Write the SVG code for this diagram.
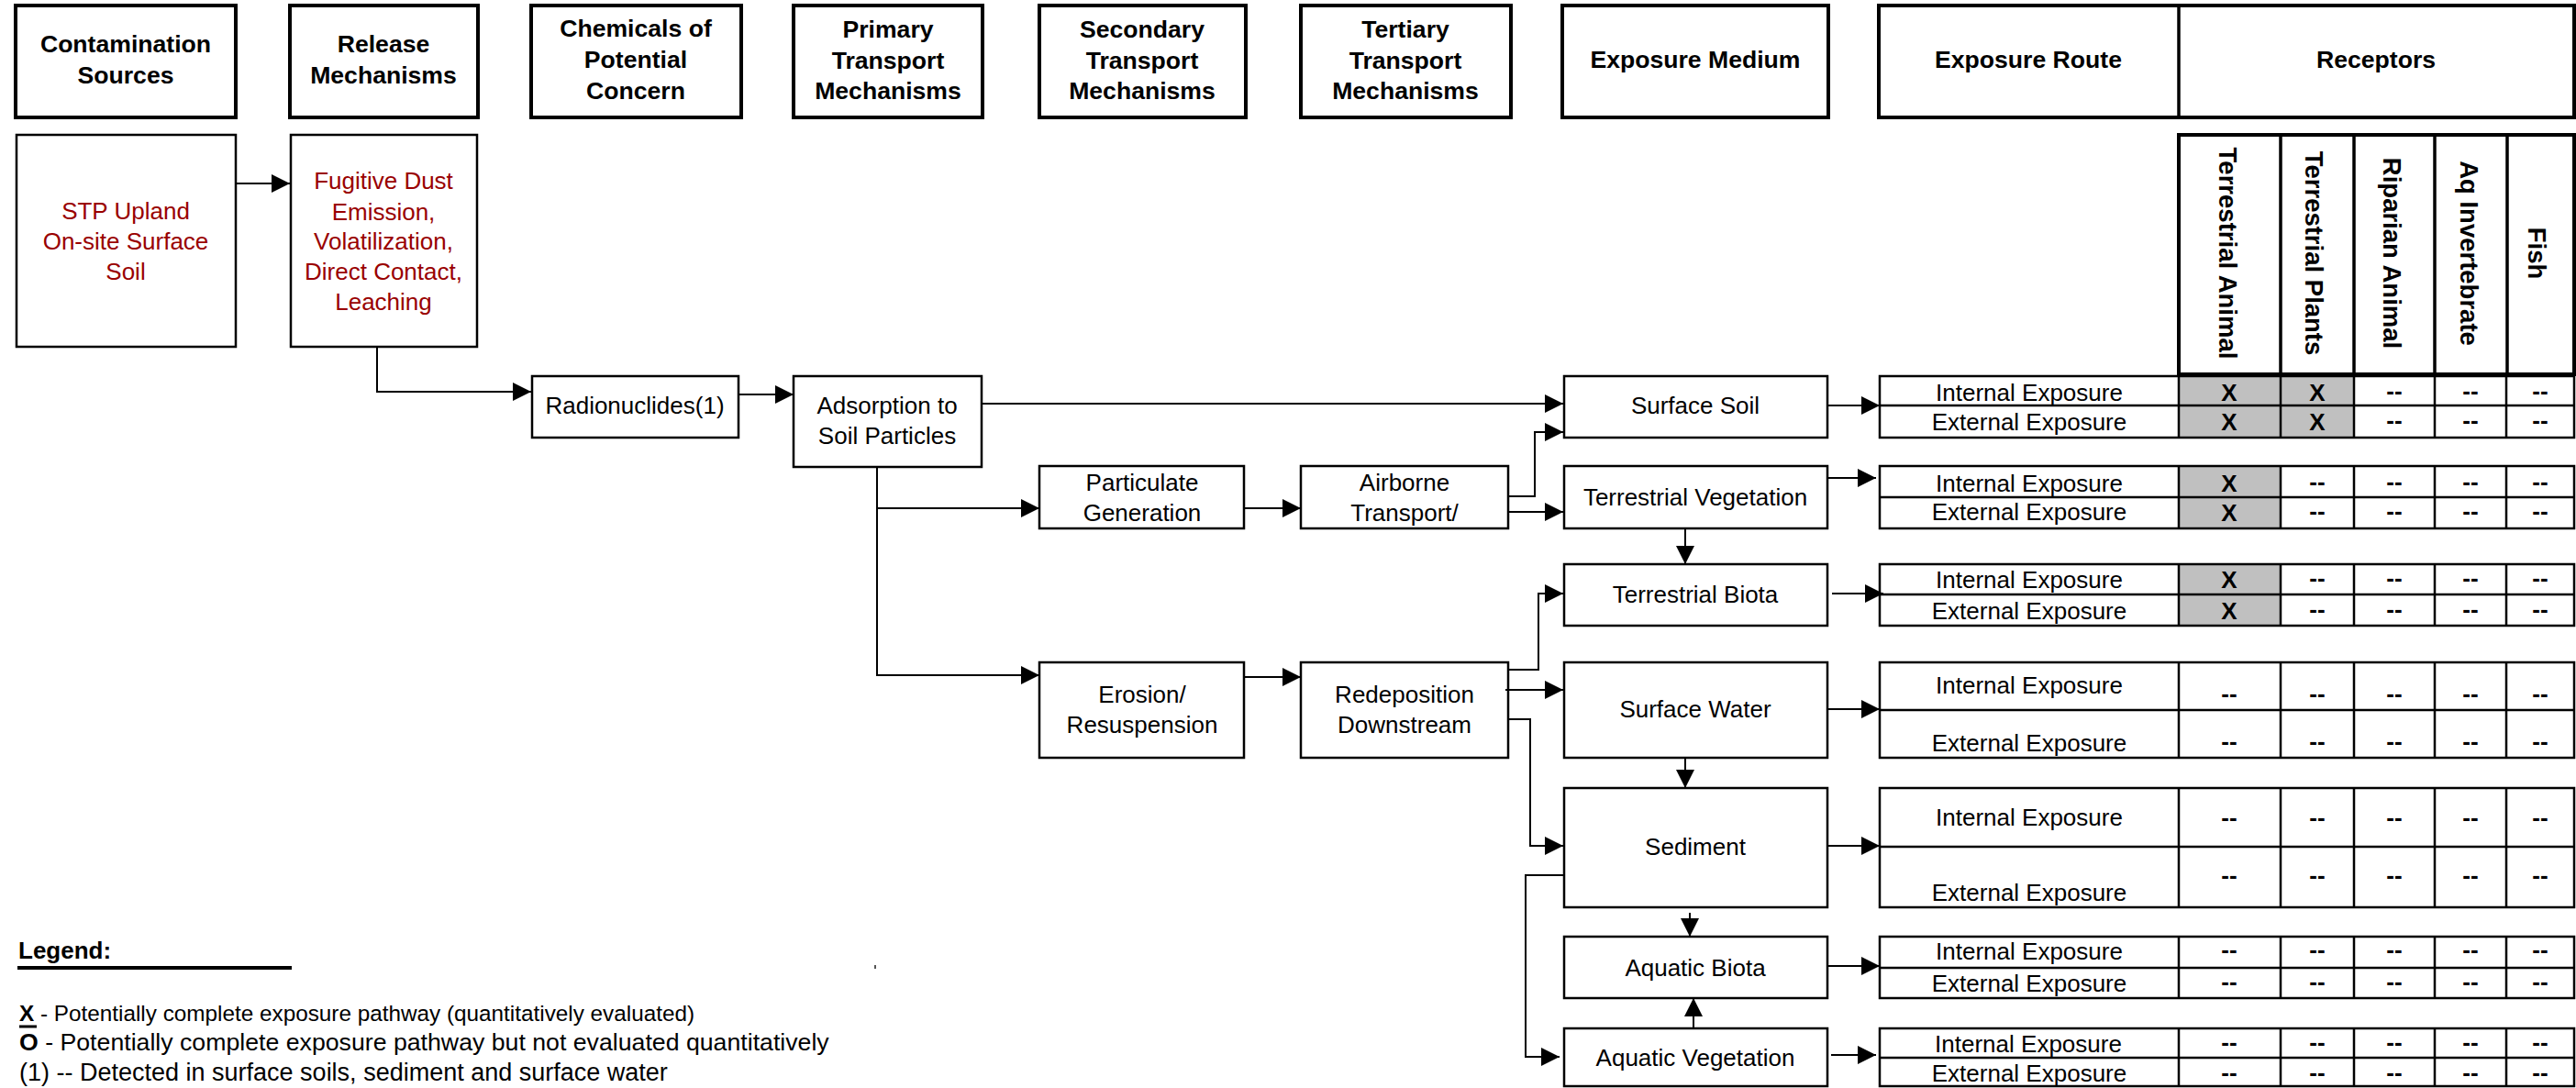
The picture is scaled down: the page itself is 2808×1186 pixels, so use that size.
<svg xmlns="http://www.w3.org/2000/svg" width="2808" height="1186" viewBox="0 0 2808 1186">
<defs>
<marker id="ah" markerUnits="userSpaceOnUse" markerWidth="20" markerHeight="20" refX="20" refY="10" orient="auto" viewBox="0 0 20 20">
<path d="M0,0 L20,10 L0,20 Z" fill="#000"/>
</marker>
</defs>
<style>
text{font-family:"Liberation Sans",Arial,Helvetica,sans-serif;font-size:26px;fill:#000;text-anchor:middle}
.b{font-weight:bold}
.h{font-weight:bold;font-size:26.6px}
.rot{font-weight:bold;font-size:27.5px}
.red{fill:#990000}
.l{text-anchor:start}
.hdr{fill:#fff;stroke:#000;stroke-width:4}
.box{fill:#fff;stroke:#000;stroke-width:2.5}
.tb{fill:none;stroke:#000;stroke-width:2.5}
.g{fill:#c0c0c0}
.cn path,.cn line{fill:none;stroke:#000;stroke-width:2;marker-end:url(#ah)}
.c{font-weight:bold}
</style>
<rect width="2808" height="1186" fill="#fff"/>

<g id="headers">
<g id="h-sources"><rect class="hdr" x="17" y="6" width="240" height="122"/><text class="h" x="137" y="57">Contamination</text><text class="h" x="137" y="91">Sources</text></g>
<g id="h-release"><rect class="hdr" x="316" y="6" width="205" height="122"/><text class="h" x="418" y="57">Release</text><text class="h" x="418" y="91">Mechanisms</text></g>
<g id="h-chem"><rect class="hdr" x="579" y="6" width="229" height="122"/><text class="h" x="693" y="40">Chemicals of</text><text class="h" x="693" y="74">Potential</text><text class="h" x="693" y="108">Concern</text></g>
<g id="h-primary"><rect class="hdr" x="865" y="6" width="206" height="122"/><text class="h" x="968" y="41">Primary</text><text class="h" x="968" y="75">Transport</text><text class="h" x="968" y="108">Mechanisms</text></g>
<g id="h-secondary"><rect class="hdr" x="1133" y="6" width="225" height="122"/><text class="h" x="1245" y="41">Secondary</text><text class="h" x="1245" y="75">Transport</text><text class="h" x="1245" y="108">Mechanisms</text></g>
<g id="h-tertiary"><rect class="hdr" x="1418" y="6" width="229" height="122"/><text class="h" x="1532" y="41">Tertiary</text><text class="h" x="1532" y="75">Transport</text><text class="h" x="1532" y="108">Mechanisms</text></g>
<g id="h-medium"><rect class="hdr" x="1703" y="6" width="290" height="122"/><text class="h" x="1848" y="74">Exposure Medium</text></g>
<g id="h-route-receptors"><rect class="hdr" x="2048" y="6" width="758" height="122"/><line x1="2375" y1="6" x2="2375" y2="128" stroke="#000" stroke-width="3.5"/><text class="h" x="2211" y="74">Exposure Route</text><text class="h" x="2590" y="74">Receptors</text></g>
<g id="h-receptor-columns">
<rect class="hdr" x="2375" y="147" width="431" height="261"/>
<g stroke="#000" stroke-width="3.5"><line x1="2486" y1="147" x2="2486" y2="408"/><line x1="2566" y1="147" x2="2566" y2="408"/><line x1="2654" y1="147" x2="2654" y2="408"/><line x1="2733" y1="147" x2="2733" y2="408"/></g>
<text class="rot" transform="translate(2429,276) rotate(90)" x="0" y="10">Terrestrial Animal</text>
<text class="rot" transform="translate(2523,276) rotate(90)" x="0" y="10">Terrestrial Plants</text>
<text class="rot" transform="translate(2608,276) rotate(90)" x="0" y="10">Riparian Animal</text>
<text class="rot" transform="translate(2692,276) rotate(90)" x="0" y="10">Aq Invertebrate</text>
<text class="rot" transform="translate(2766,276) rotate(90)" x="0" y="10">Fish</text>
</g>
</g>

<g id="nodes">
<g id="n-source"><rect class="box" x="18" y="147" width="239" height="231"/><text class="red" x="137" y="239">STP Upland</text><text class="red" x="137" y="272">On-site Surface</text><text class="red" x="137" y="305">Soil</text></g>
<g id="n-release"><rect class="box" x="317" y="147" width="203" height="231"/><text class="red" x="418" y="206">Fugitive Dust</text><text class="red" x="418" y="240">Emission,</text><text class="red" x="418" y="272">Volatilization,</text><text class="red" x="418" y="305">Direct Contact,</text><text class="red" x="418" y="338">Leaching</text></g>
<g id="n-radionuclides"><rect class="box" x="580" y="410" width="225" height="67"/><text x="692" y="451">Radionuclides(1)</text></g>
<g id="n-adsorption"><rect class="box" x="865" y="410" width="205" height="99"/><text x="967" y="451">Adsorption to</text><text x="967" y="484">Soil Particles</text></g>
<g id="n-particulate"><rect class="box" x="1133" y="508" width="223" height="68"/><text x="1245" y="535">Particulate</text><text x="1245" y="568">Generation</text></g>
<g id="n-airborne"><rect class="box" x="1418" y="508" width="226" height="68"/><text x="1531" y="535">Airborne</text><text x="1531" y="568">Transport/</text></g>
<g id="n-erosion"><rect class="box" x="1133" y="722" width="223" height="104"/><text x="1245" y="766">Erosion/</text><text x="1245" y="799">Resuspension</text></g>
<g id="n-redeposition"><rect class="box" x="1418" y="722" width="226" height="104"/><text x="1531" y="766">Redeposition</text><text x="1531" y="799">Downstream</text></g>
<g id="n-surface-soil"><rect class="box" x="1705" y="410" width="287" height="67"/><text x="1848" y="451">Surface Soil</text></g>
<g id="n-terr-veg"><rect class="box" x="1705" y="508" width="287" height="68"/><text x="1848" y="551">Terrestrial Vegetation</text></g>
<g id="n-terr-biota"><rect class="box" x="1705" y="615" width="287" height="67"/><text x="1848" y="657">Terrestrial Biota</text></g>
<g id="n-surface-water"><rect class="box" x="1705" y="722" width="287" height="104"/><text x="1848" y="782">Surface Water</text></g>
<g id="n-sediment"><rect class="box" x="1705" y="859" width="287" height="130"/><text x="1848" y="932">Sediment</text></g>
<g id="n-aq-biota"><rect class="box" x="1705" y="1021" width="287" height="67"/><text x="1848" y="1064">Aquatic Biota</text></g>
<g id="n-aq-veg"><rect class="box" x="1705" y="1121" width="287" height="63"/><text x="1848" y="1162">Aquatic Vegetation</text></g>
</g>

<g id="tables">
<g id="t-surface-soil">
<rect class="g" x="2375" y="410" width="191" height="67"/>
<rect class="tb" x="2049" y="410" width="757" height="67"/>
<path class="tb" d="M2049,442H2806M2375,410V477M2486,410V477M2566,410V477M2654,410V477M2732,410V477"/>
<text x="2212" y="437">Internal Exposure</text><text x="2212" y="469">External Exposure</text>
<text class="c" x="2430" y="437">X</text><text class="c" x="2526" y="437">X</text><text class="c" x="2610" y="435">--</text><text class="c" x="2693" y="435">--</text><text class="c" x="2769" y="435">--</text>
<text class="c" x="2430" y="469">X</text><text class="c" x="2526" y="469">X</text><text class="c" x="2610" y="467">--</text><text class="c" x="2693" y="467">--</text><text class="c" x="2769" y="467">--</text>
</g>
<g id="t-terr-veg">
<rect class="g" x="2375" y="508" width="111" height="68"/>
<rect class="tb" x="2049" y="508" width="757" height="68"/>
<path class="tb" d="M2049,542H2806M2375,508V576M2486,508V576M2566,508V576M2654,508V576M2732,508V576"/>
<text x="2212" y="536">Internal Exposure</text><text x="2212" y="567">External Exposure</text>
<text class="c" x="2430" y="536">X</text><text class="c" x="2526" y="534">--</text><text class="c" x="2610" y="534">--</text><text class="c" x="2693" y="534">--</text><text class="c" x="2769" y="534">--</text>
<text class="c" x="2430" y="568">X</text><text class="c" x="2526" y="566">--</text><text class="c" x="2610" y="566">--</text><text class="c" x="2693" y="566">--</text><text class="c" x="2769" y="566">--</text>
</g>
<g id="t-terr-biota">
<rect class="g" x="2375" y="615" width="111" height="67"/>
<rect class="tb" x="2049" y="615" width="757" height="67"/>
<path class="tb" d="M2049,648H2806M2375,615V682M2486,615V682M2566,615V682M2654,615V682M2732,615V682"/>
<text x="2212" y="641">Internal Exposure</text><text x="2212" y="675">External Exposure</text>
<text class="c" x="2430" y="641">X</text><text class="c" x="2526" y="639">--</text><text class="c" x="2610" y="639">--</text><text class="c" x="2693" y="639">--</text><text class="c" x="2769" y="639">--</text>
<text class="c" x="2430" y="675">X</text><text class="c" x="2526" y="673">--</text><text class="c" x="2610" y="673">--</text><text class="c" x="2693" y="673">--</text><text class="c" x="2769" y="673">--</text>
</g>
<g id="t-surface-water">
<rect class="tb" x="2049" y="722" width="757" height="104"/>
<path class="tb" d="M2049,774H2806M2375,722V826M2486,722V826M2566,722V826M2654,722V826M2732,722V826"/>
<text x="2212" y="756">Internal Exposure</text><text x="2212" y="819">External Exposure</text>
<text class="c" x="2430" y="765">--</text><text class="c" x="2526" y="765">--</text><text class="c" x="2610" y="765">--</text><text class="c" x="2693" y="765">--</text><text class="c" x="2769" y="765">--</text>
<text class="c" x="2430" y="817">--</text><text class="c" x="2526" y="817">--</text><text class="c" x="2610" y="817">--</text><text class="c" x="2693" y="817">--</text><text class="c" x="2769" y="817">--</text>
</g>
<g id="t-sediment">
<rect class="tb" x="2049" y="859" width="757" height="130"/>
<path class="tb" d="M2049,923H2806M2375,859V989M2486,859V989M2566,859V989M2654,859V989M2732,859V989"/>
<text x="2212" y="900">Internal Exposure</text><text x="2212" y="982">External Exposure</text>
<text class="c" x="2430" y="900">--</text><text class="c" x="2526" y="900">--</text><text class="c" x="2610" y="900">--</text><text class="c" x="2693" y="900">--</text><text class="c" x="2769" y="900">--</text>
<text class="c" x="2430" y="963">--</text><text class="c" x="2526" y="963">--</text><text class="c" x="2610" y="963">--</text><text class="c" x="2693" y="963">--</text><text class="c" x="2769" y="963">--</text>
</g>
<g id="t-aq-biota">
<rect class="tb" x="2049" y="1021" width="757" height="67"/>
<path class="tb" d="M2049,1055H2806M2375,1021V1088M2486,1021V1088M2566,1021V1088M2654,1021V1088M2732,1021V1088"/>
<text x="2212" y="1046">Internal Exposure</text><text x="2212" y="1081">External Exposure</text>
<text class="c" x="2430" y="1044">--</text><text class="c" x="2526" y="1044">--</text><text class="c" x="2610" y="1044">--</text><text class="c" x="2693" y="1044">--</text><text class="c" x="2769" y="1044">--</text>
<text class="c" x="2430" y="1079">--</text><text class="c" x="2526" y="1079">--</text><text class="c" x="2610" y="1079">--</text><text class="c" x="2693" y="1079">--</text><text class="c" x="2769" y="1079">--</text>
</g>
<g id="t-aq-veg">
<rect class="tb" x="2049" y="1121" width="757" height="63"/>
<path class="tb" d="M2049,1153H2806M2375,1121V1184M2486,1121V1184M2566,1121V1184M2654,1121V1184M2732,1121V1184"/>
<text x="2211" y="1147">Internal Exposure</text><text x="2212" y="1179">External Exposure</text>
<text class="c" x="2430" y="1145">--</text><text class="c" x="2526" y="1145">--</text><text class="c" x="2610" y="1145">--</text><text class="c" x="2693" y="1145">--</text><text class="c" x="2769" y="1145">--</text>
<text class="c" x="2430" y="1178">--</text><text class="c" x="2526" y="1178">--</text><text class="c" x="2610" y="1178">--</text><text class="c" x="2693" y="1178">--</text><text class="c" x="2769" y="1178">--</text>
</g>
</g>

<g id="connectors" class="cn">
<line x1="257" y1="200" x2="316" y2="200"/>
<path d="M411,378V427H579"/>
<line x1="805" y1="430" x2="865" y2="430"/>
<line x1="1070" y1="440" x2="1704" y2="440"/>
<path d="M956,509V554H1133"/>
<path d="M956,554V736H1133"/>
<line x1="1356" y1="554" x2="1418" y2="554"/>
<path d="M1644,541H1673V471H1704"/>
<line x1="1644" y1="558" x2="1704" y2="558"/>
<line x1="1837" y1="576" x2="1837" y2="615"/>
<line x1="1356" y1="738" x2="1418" y2="738"/>
<path d="M1644,730H1677V647H1704"/>
<line x1="1641" y1="752" x2="1704" y2="752"/>
<path d="M1644,784H1668V922H1704"/>
<line x1="1837" y1="826" x2="1837" y2="859"/>
<path d="M1705,954H1663V1152H1700"/>
<line x1="1842" y1="995" x2="1842" y2="1021"/>
<line x1="1846" y1="1121" x2="1846" y2="1088"/>
<line x1="1992" y1="442" x2="2049" y2="442"/>
<line x1="1992" y1="521" x2="2045" y2="521"/>
<line x1="1997" y1="647" x2="2053" y2="647"/>
<line x1="1992" y1="773" x2="2049" y2="773"/>
<line x1="1992" y1="922" x2="2049" y2="922"/>
<line x1="1992" y1="1053" x2="2049" y2="1053"/>
<line x1="1996" y1="1150" x2="2045" y2="1150"/>
</g>

<g id="legend">
<text class="b l" x="20" y="1045">Legend:</text>
<rect x="19" y="1053" width="299" height="4" fill="#000"/>
<rect x="953" y="1052" width="2" height="4" fill="#555"/>
<text class="l" x="21" y="1113" style="font-size:24.3px"><tspan font-weight="bold">X</tspan>  - Potentially complete exposure pathway (quantitatively evaluated)</text>
<line x1="21" y1="1119" x2="40" y2="1119" stroke="#000" stroke-width="3"/>
<text class="l" x="21" y="1145" style="font-size:26.7px"><tspan font-weight="bold">O</tspan> - Potentially complete exposure pathway but not evaluated quantitatively</text>
<text class="l" x="21" y="1178" style="font-size:27px">(1) -- Detected in surface soils, sediment and surface water</text>
</g>
</svg>
